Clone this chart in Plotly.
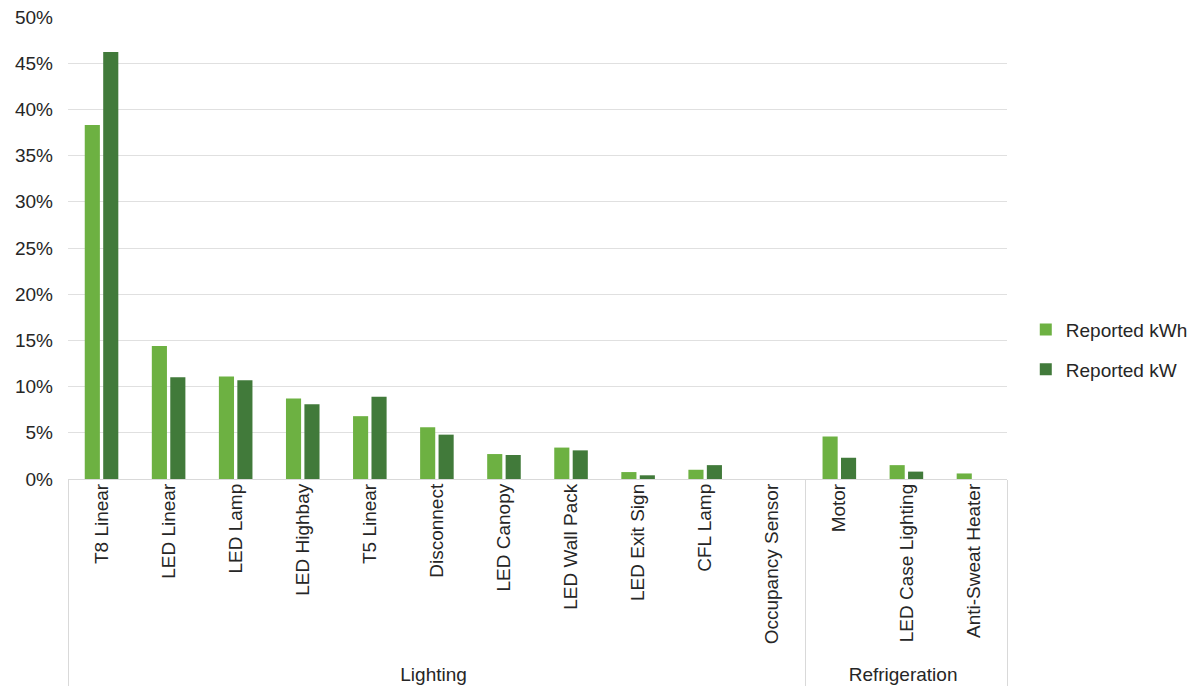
import plotly.graph_objects as go

# End-use groups and measures
groups = ["Lighting"] * 11 + ["Refrigeration"] * 3
measures = [
    "T8 Linear", "LED Linear", "LED Lamp", "LED Highbay", "T5 Linear",
    "Disconnect", "LED Canopy", "LED Wall Pack", "LED Exit Sign", "CFL Lamp",
    "Occupancy Sensor", "Motor", "LED Case Lighting", "Anti-Sweat Heater",
]

# Share of reported savings (%)
reported_kwh = [38.3, 14.4, 11.1, 8.7, 6.8, 5.6, 2.7, 3.4, 0.75, 1.0, 0.0, 4.6, 1.5, 0.6]
reported_kw = [46.2, 11.0, 10.7, 8.1, 8.9, 4.8, 2.6, 3.1, 0.4, 1.5, 0.0, 2.3, 0.8, 0.0]

y_ticks = list(range(0, 55, 5))
y_tick_text = [f"{v}%" for v in y_ticks]

FONT = "Liberation Sans, Arial, sans-serif"
TEXT = "#262626"
SIZE = 19

fig = go.Figure()
fig.add_trace(go.Bar(
    name="Reported kWh", x=[groups, measures], y=reported_kwh,
    marker=dict(color="#6db142", line=dict(width=0)),
    legendgroup="kwh",
))
fig.add_trace(go.Bar(
    name="Reported kW", x=[groups, measures], y=reported_kw,
    marker=dict(color="#417a3a", line=dict(width=0)),
    legendgroup="kw",
))

fig.update_layout(
    width=1197, height=700,
    margin=dict(l=68, r=190, t=17, b=221, autoexpand=False),
    paper_bgcolor="white", plot_bgcolor="white",
    font=dict(family=FONT, size=SIZE, color=TEXT),
    barmode="group", bargap=0.45, bargroupgap=0.18,
    showlegend=True,
    legend=dict(
        x=1.02, y=0.28, xanchor="left", yanchor="middle",
        font=dict(family=FONT, size=SIZE, color=TEXT),
        traceorder="grouped", tracegroupgap=12,
        bgcolor="rgba(0,0,0,0)",
    ),
    xaxis=dict(
        type="multicategory",
        tickangle=-90,
        showgrid=False, showline=False, ticks="",
        showdividers=True, dividercolor="#d9d9d9", dividerwidth=1,
        tickfont=dict(family=FONT, size=SIZE, color=TEXT),
    ),
    yaxis=dict(
        range=[0, 50], tickvals=y_ticks, ticktext=y_tick_text,
        showgrid=True, gridcolor="#e0e0e0", gridwidth=1,
        zeroline=True, zerolinecolor="#d9d9d9", zerolinewidth=1,
        showline=False, ticks="", ticklabelstandoff=14,
        tickfont=dict(family=FONT, size=SIZE, color=TEXT),
    ),
)

fig.write_html("out.html")
